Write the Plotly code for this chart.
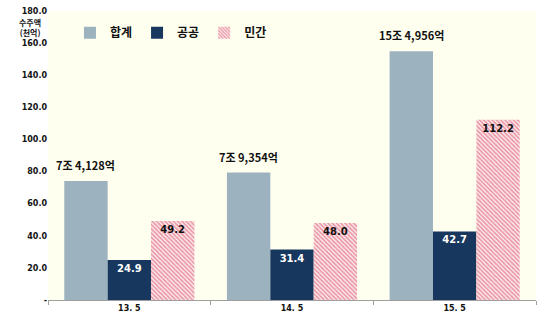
import plotly.graph_objects as go

categories = ["13. 5", "14. 5", "15. 5"]
total_vals = [74.1, 79.4, 155.0]
total_labels = ["7조 4,128억", "7조 9,354억", "15조 4,956억"]
public_vals = [24.9, 31.4, 42.7]
private_vals = [49.2, 48.0, 112.2]
series_names = ["합계", "공공", "민간"]
y_ticks = [0, 20, 40, 60, 80, 100, 120, 140, 160, 180]
y_ticktext = ["-"] + [f"{v:.1f}" for v in y_ticks[1:]]

FONT = "Noto Sans CJK KR, DejaVu Sans, sans-serif"
TICKFONT = "DejaVu Sans, sans-serif"

W, H = 543, 320
ML, MR, MT, MB = 48, 7, 9, 18
plot_w = W - ML - MR
plot_h = H - MT - MB
bargap = 0.2
bar_w_px = plot_w / len(categories) * (1 - bargap) / 3

fig = go.Figure()
fig.add_trace(go.Bar(
    x=categories, y=total_vals, name=series_names[0],
    marker=dict(color="#9DB2BF", line=dict(width=0)),
))
fig.add_trace(go.Bar(
    x=categories, y=public_vals, name=series_names[1],
    marker=dict(color="#17375E", line=dict(width=0)),
    text=[f"{v:.1f}" for v in public_vals], textposition="inside",
    insidetextanchor="end", constraintext="none",
    textfont=dict(family=TICKFONT, size=10, color="white", weight="bold"),
))
fig.add_trace(go.Bar(
    x=categories, y=private_vals, name=series_names[2],
    marker=dict(color="white", line=dict(width=0),
                pattern=dict(shape="\\", fgcolor="#D93A52", bgcolor="white",
                             size=3, solidity=0.65, fillmode="overlay")),
    text=[f"{v:.1f}" for v in private_vals], textposition="inside",
    insidetextanchor="end", constraintext="none",
    textfont=dict(family=TICKFONT, size=10, color="#111111", weight="bold"),
))

annotations = [dict(text="수주액<br>(천억)", xref="paper", yref="paper", x=0,
                    y=(H - MB - 26) / plot_h,
                    xanchor="right", yanchor="middle", xshift=-5, showarrow=False,
                    font=dict(family=FONT, size=8, color="#111111", weight="bold"))]
for cat, v, lab in zip(categories, total_vals, total_labels):
    annotations.append(dict(text=lab, x=cat, y=v, xref="x", yref="y",
                            xshift=-bar_w_px, yshift=6, xanchor="center", yanchor="bottom",
                            showarrow=False,
                            font=dict(family=FONT, size=11, color="#111111", weight="bold")))

fig.update_layout(
    width=W, height=H,
    margin=dict(l=ML, r=MR, t=MT, b=MB),
    paper_bgcolor="white", plot_bgcolor="#FFFFEF",
    barmode="group", bargap=bargap, bargroupgap=0,
    showlegend=True,
    legend=dict(orientation="h", x=0.045, y=0.975, xanchor="left", yanchor="top",
                bgcolor="rgba(0,0,0,0)",
                font=dict(family=FONT, size=12, color="#111111", weight="bold"),
                itemwidth=30, tracegroupgap=0),
    xaxis=dict(showgrid=False, showline=True, linecolor="#A0A0A0", linewidth=1,
               ticks="outside", tickson="boundaries", ticklen=4, tickcolor="#A0A0A0",
               tickfont=dict(family=TICKFONT, size=8, color="#111111", weight="bold")),
    yaxis=dict(range=[0, 180], tickvals=y_ticks, ticktext=y_ticktext,
               showgrid=False, showline=False, zeroline=False, ticks="",
               tickfont=dict(family=TICKFONT, size=8, color="#111111", weight="bold")),
    annotations=annotations,
)

fig.write_html("out.html")
